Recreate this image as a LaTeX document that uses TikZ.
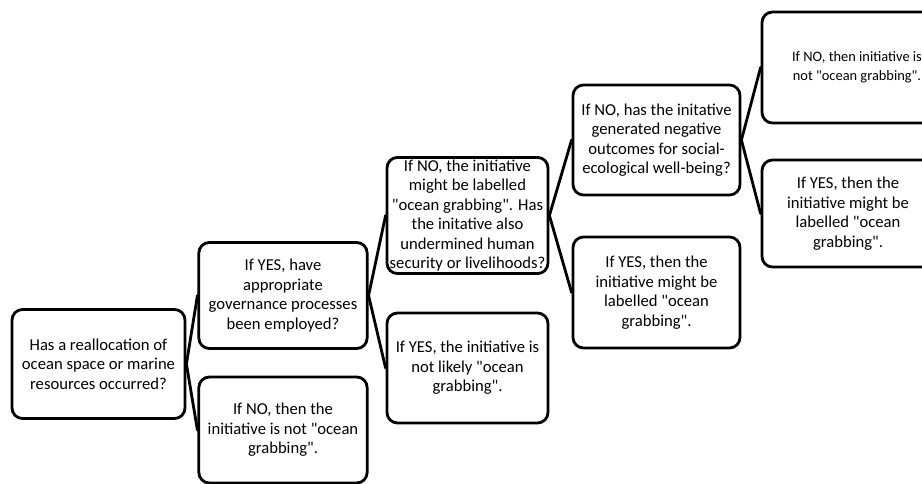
\documentclass[tikz,border=0pt]{standalone}
\usepackage{fontspec}
\setmainfont{Carlito}[Ligatures=TeXOff]
\usepackage{tikz}
\usetikzlibrary{positioning}

\begin{document}
\begin{tikzpicture}[x=0.03cm,y=0.03cm]
\tikzstyle{every node}+=[inner sep=2pt]
\tikzstyle{box}=[draw=black, line width=2.4pt, rounded corners=9pt, align=center,
  minimum width=5.05cm, minimum height=3.27cm, font=\fontsize{14.2}{16.6}\selectfont]
\tikzstyle{link}=[black, line width=2.4pt, line cap=round]
\clip (0,0) rectangle (922,-484);
% column 1
\node [box, minimum width=5.19cm] (root) at (98.5,-364) {Has a reallocation of\\ocean space or marine\\resources occurred?};
% column 2
\node [box, minimum height=3.18cm] (govyes) at (283,-295.5) {If YES, have\\appropriate\\governance processes\\been employed?};
\node [box, minimum height=3.18cm] (govno) at (283,-430) {If NO, then the\\initiative is not "ocean\\grabbing".};
% column 3
\node [box, minimum width=4.83cm, minimum height=3.39cm] (secq) at (467.5,-215.5) {If NO, the initiative\\might be labelled\\"ocean grabbing". Has\\the initative also\\undermined human\\security or livelihoods?};
\node [box, minimum width=4.83cm, minimum height=3.3cm] (secno) at (467.5,-368) {If YES, the initiative is\\not likely "ocean\\grabbing".};
% column 4
\node [box, minimum width=5.01cm, minimum height=3.3cm] (negq) at (656.5,-140) {If NO, has the initative\\generated negative\\outcomes for social-\\ecological well-being?};
\node [box, minimum width=5.01cm, minimum height=3.33cm] (negyes) at (656.5,-292.5) {If YES, then the\\initiative might be\\labelled "ocean\\grabbing".};
% column 5
\node [box, minimum width=5.7cm, minimum height=3.33cm, font=\fontsize{12.3}{16.2}\selectfont] (negno) at (857,-67.5) {If NO, then initiative is\\not "ocean grabbing".};
\node [box, minimum width=5.16cm, minimum height=3.21cm] (lastyes) at (848,-213.5) {If YES, then the\\initiative might be\\labelled "ocean\\grabbing".};
% brackets
\draw [link] (root.east) -- (govyes.west);
\draw [link] (root.east) -- (govno.west);
\draw [link] (govyes.east) -- (secq.west);
\draw [link] (govyes.east) -- (secno.west);
\draw [link] (secq.east) -- (negq.west);
\draw [link] (secq.east) -- (negyes.west);
\draw [link] (negq.east) -- (negno.west);
\draw [link] (negq.east) -- (lastyes.west);
\end{tikzpicture}
\end{document}
